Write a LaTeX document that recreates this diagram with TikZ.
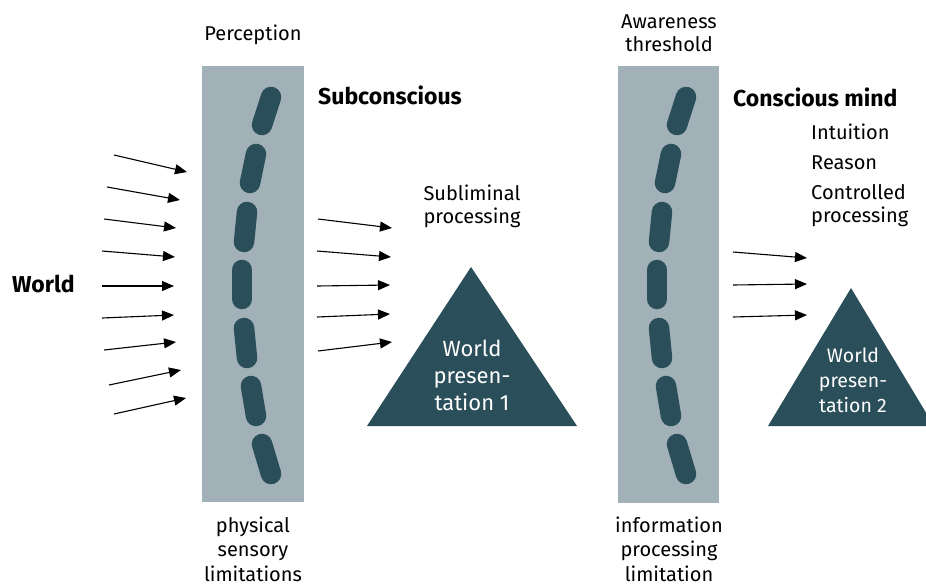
\documentclass[tikz,border=0pt]{standalone}
\usepackage{fontspec}
\setmainfont{Fira Sans}
\usetikzlibrary{arrows.meta}
\definecolor{barfill}{HTML}{A1B1B7}
\definecolor{dark}{HTML}{2A4E5A}
\begin{document}
\begin{tikzpicture}[x=1pt,y=-1pt,
  txt/.style={font=\fontsize{20}{24}\selectfont, align=center, inner sep=0pt},
  ltxt/.style={font=\fontsize{20}{23}\selectfont, align=left, inner sep=0pt, anchor=west},
  bold/.style={font=\fontsize{23}{25}\selectfont\bfseries, inner sep=0pt, anchor=west},
  bar/.style={fill=barfill, draw=none},
  dashpill/.style={draw=dark, line width=20.5pt, line cap=round},
  tri/.style={fill=dark, draw=none},
  tritxt/.style={text=white, align=center, inner sep=0pt},
  arr/.style={-{Triangle[length=12pt,width=10pt]}, line width=1.1pt, shorten >=0pt}]
\useasboundingbox (0,0) rectangle (926,586);
\clip (0,0) rectangle (926,586);

% bars
\fill[bar] (202,66) rectangle (304,502);
\fill[bar] (618,66) rectangle (719,503);

% dashes
\foreach \sh in {0,415}{
  \begin{scope}[xshift=\sh]
    \draw[dashpill] (271,97) -- (262,125);
    \draw[dashpill] (256,154) -- (250,183);
    \draw[dashpill] (247,212) -- (244,242);
    \draw[dashpill] (242,270) -- (242,299);
    \draw[dashpill] (244,328) -- (247,358);
    \draw[dashpill] (251,386) -- (256,416);
    \draw[dashpill] (262,444) -- (271,474);
  \end{scope}
}

% triangles
\coordinate (t1a) at (471,267);
\coordinate (t1l) at (367,426);
\coordinate (t1r) at (577,426);
\fill[tri] (t1a) -- (t1l) -- (t1r) -- cycle;
\node[tritxt, font=\fontsize{22}{27}\selectfont] (wp1) at (472,375) {World\\presen-\\tation 1};

\coordinate (t2a) at (851,288);
\coordinate (t2l) at (768,426);
\coordinate (t2r) at (934,426);
\fill[tri] (t2a) -- (t2l) -- (t2r) -- cycle;
\node[tritxt, font=\fontsize{19.5}{25}\selectfont] (wp2) at (853,380) {World\\presen-\\tation 2};

% texts
\node[txt] (perc) at (253,35) {Perception};
\node[txt, font=\fontsize{20}{23}\selectfont] (aware) at (669,33) {Awareness\\threshold};
\node[bold] (sub) at (318,95) {Subconscious};
\node[bold] (con) at (733,97) {Conscious mind};
\node[ltxt] (intu) at (811,132) {Intuition};
\node[ltxt] (reas) at (811,163) {Reason};
\node[ltxt] (ctrl) at (811,206) {Controlled\\processing};
\node[txt, font=\fontsize{20}{23}\selectfont] (subl) at (472,206) {Subliminal\\processing};
\node[bold] (world) at (12,284) {World};
\node[txt, font=\fontsize{20}{24.5}\selectfont] (phys) at (253,549) {physical\\sensory\\limitations};
\node[txt, font=\fontsize{20}{24.5}\selectfont] (info) at (669,549) {information\\processing\\limitation};

% left arrows
\foreach \i/\sx/\sy/\ex/\ey in {1/114/155/187/172, 2/107/187/180/200, 3/104/219/176/228,
  4/102/251/175/257, 5/102/286/174/286, 6/102/318/174/315, 7/104/350/176/342,
  8/109/385/181/370, 9/114/414/186/398}{
  \coordinate (ls\i) at (\sx,\sy);
  \coordinate (le\i) at (\ex,\ey);
  \draw[arr] (ls\i) -- (le\i);
}
% middle arrows
\foreach \i/\sx/\sy/\ex/\ey in {1/318/219/392/228, 2/317/251/391/257, 3/317/286/390/285,
  4/317/317/390/314, 5/318/351/392/342}{
  \coordinate (ms\i) at (\sx,\sy);
  \coordinate (me\i) at (\ex,\ey);
  \draw[arr] (ms\i) -- (me\i);
}
% right arrows
\foreach \i/\sx/\sy/\ex/\ey in {1/733/252/807/258, 2/733/285/807/284, 3/733/317/807/315}{
  \coordinate (rs\i) at (\sx,\sy);
  \coordinate (re\i) at (\ex,\ey);
  \draw[arr] (rs\i) -- (re\i);
}
\end{tikzpicture}
\end{document}
